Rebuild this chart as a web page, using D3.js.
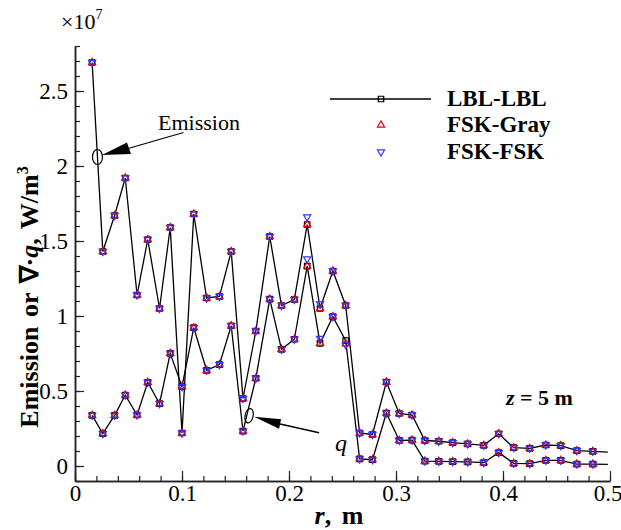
<!DOCTYPE html>
<html>
<head>
<meta charset="utf-8">
<script src="https://cdn.jsdelivr.net/npm/d3@7"></script>
<style>
  body { margin: 0; background: #fff; }
  svg { display: block; }
  text { font-family: "Liberation Serif", "Times New Roman", serif; fill: #000; }
</style>
</head>
<body>
<svg id="chart" width="621" height="530"></svg>
<script>
// Radial positions (m). The last entry is the wall point: it is part of the line only.
const radius = [0.016, 0.026, 0.037, 0.047, 0.058, 0.068, 0.079, 0.089, 0.100, 0.111,
                0.123, 0.135, 0.146, 0.157, 0.169, 0.182, 0.193, 0.205, 0.217, 0.229,
                0.241, 0.253, 0.266, 0.278, 0.291, 0.303, 0.315, 0.327, 0.340, 0.353,
                0.367, 0.382, 0.396, 0.410, 0.425, 0.440, 0.454, 0.469, 0.484, 0.498];

// Emission, x1e7 W/m^3
const emissionLBL = [2.69, 1.43, 1.67, 1.92, 1.14, 1.51, 1.05, 1.59, 0.22, 1.68,
                     1.12, 1.13, 1.43, 0.45, 0.90, 1.53, 1.07, 1.11, 1.61, 1.05,
                     1.30, 1.07, 0.22, 0.21, 0.56, 0.35, 0.34, 0.17, 0.165, 0.156,
                     0.147, 0.138, 0.215, 0.122, 0.118, 0.140, 0.136, 0.102, 0.098, 0.093];
const emissionGray = [2.69, 1.43, 1.67, 1.92, 1.14, 1.51, 1.05, 1.59, 0.22, 1.68,
                      1.12, 1.13, 1.43, 0.45, 0.90, 1.53, 1.07, 1.11, 1.61, 1.05,
                      1.30, 1.07, 0.22, 0.21, 0.56, 0.35, 0.34, 0.17, 0.165, 0.156,
                      0.147, 0.138, 0.215, 0.122, 0.118, 0.140, 0.136, 0.102, 0.098];
const emissionFSK = [2.69, 1.43, 1.67, 1.92, 1.14, 1.51, 1.05, 1.59, 0.22, 1.68,
                     1.12, 1.13, 1.43, 0.45, 0.90, 1.53, 1.07, 1.11, 1.66, 1.08,
                     1.30, 1.07, 0.22, 0.21, 0.56, 0.35, 0.34, 0.17, 0.165, 0.156,
                     0.147, 0.138, 0.215, 0.122, 0.118, 0.140, 0.136, 0.102, 0.098];

// Divergence of radiative heat flux, x1e7 W/m^3
const divqLBL = [0.338, 0.216, 0.338, 0.473, 0.34, 0.558, 0.416, 0.751, 0.529, 0.922,
                 0.638, 0.676, 0.935, 0.233, 0.585, 1.113, 0.778, 0.845, 1.333, 0.818,
                 0.996, 0.836, 0.047, 0.042, 0.353, 0.171, 0.173, 0.033, 0.031, 0.029,
                 0.027, 0.022, 0.089, 0.018, 0.016, 0.038, 0.038, 0.013, 0.013, 0.011];
const divqGray = [0.338, 0.216, 0.338, 0.473, 0.34, 0.558, 0.416, 0.751, 0.529, 0.922,
                  0.638, 0.676, 0.935, 0.233, 0.585, 1.113, 0.778, 0.845, 1.333, 0.818,
                  0.996, 0.815, 0.047, 0.042, 0.353, 0.171, 0.173, 0.033, 0.031, 0.029,
                  0.027, 0.022, 0.089, 0.018, 0.016, 0.038, 0.038, 0.013, 0.013];
const divqFSK = [0.338, 0.216, 0.338, 0.473, 0.34, 0.558, 0.416, 0.751, 0.529, 0.922,
                 0.638, 0.676, 0.935, 0.233, 0.585, 1.113, 0.778, 0.845, 1.38, 0.851,
                 0.996, 0.808, 0.047, 0.042, 0.353, 0.171, 0.173, 0.033, 0.031, 0.029,
                 0.027, 0.022, 0.089, 0.018, 0.016, 0.038, 0.038, 0.013, 0.013];

const xMajorTicks = [0, 0.1, 0.2, 0.3, 0.4, 0.5];
const yMajorTicks = [0, 0.5, 1, 1.5, 2, 2.5];
const legendLabels = ["LBL-LBL", "FSK-Gray", "FSK-FSK"];

const svg = d3.select("#chart");
const x = d3.scaleLinear().domain([0, 0.5]).range([75, 610]);
const y = d3.scaleLinear().domain([-0.1, 2.8]).range([481, 46]);
const axisColor = "#222";
const red = "#e60000", blue = "#3333ff";

// ---- axes -------------------------------------------------------------
const xMinor = d3.range(0, 0.5001, 0.02);
const yMinor = d3.range(-0.1, 2.8001, 0.1);

const gxm = svg.append("g").attr("transform", `translate(0,${y(-0.1)})`)
  .call(d3.axisBottom(x).tickValues(xMinor).tickSize(-5).tickSizeOuter(0).tickFormat(""));
const gx = svg.append("g").attr("transform", `translate(0,${y(-0.1)})`)
  .call(d3.axisBottom(x).tickValues(xMajorTicks).tickSize(-10).tickSizeOuter(0)
    .tickPadding(12).tickFormat(d => String(d)));
const gym = svg.append("g").attr("transform", `translate(${x(0)},0)`)
  .call(d3.axisLeft(y).tickValues(yMinor).tickSize(-5).tickSizeOuter(0).tickFormat(""));
const gy = svg.append("g").attr("transform", `translate(${x(0)},0)`)
  .call(d3.axisLeft(y).tickValues(yMajorTicks).tickSize(-9).tickSizeOuter(0)
    .tickPadding(7).tickFormat(d => String(d)));

[gxm, gx, gym, gy].forEach(g => {
  g.selectAll("path.domain").attr("stroke", axisColor).attr("stroke-width", 1.5);
  g.selectAll(".tick line").attr("stroke", axisColor).attr("stroke-width", 1.2);
  g.selectAll(".tick text").style("font-family", '"Liberation Serif", serif')
    .style("font-size", "23px").attr("fill", "#000");
});
gx.selectAll(".tick text").attr("dy", "0.35em");
// keep the last radial label inside the frame
gx.selectAll(".tick text").filter(d => d === 0.5).attr("text-anchor", "end").attr("dx", 12);

// ---- curves -----------------------------------------------------------
const line = d3.line().x((d, i) => x(radius[i])).y(d => y(d));
[emissionLBL, divqLBL].forEach(series => {
  svg.append("path").datum(series).attr("d", line)
    .attr("fill", "none").attr("stroke", "#000").attr("stroke-width", 1.3);
});

const squarePath = d3.symbol().type(d3.symbolSquare).size(30)();
const trianglePath = d3.symbol().type(d3.symbolTriangle).size(22)();

function drawMarkers(series, path, color, rotate) {
  svg.append("g").selectAll("path").data(series.slice(0, radius.length - 1)).join("path")
    .attr("d", path)
    .attr("transform", (d, i) => `translate(${x(radius[i])},${y(d)})${rotate ? " rotate(180)" : ""}`)
    .attr("fill", "none").attr("stroke", color).attr("stroke-width", 1.2);
}
drawMarkers(emissionLBL, squarePath, "#000", false);
drawMarkers(divqLBL, squarePath, "#000", false);
drawMarkers(emissionGray, trianglePath, red, false);
drawMarkers(divqGray, trianglePath, red, false);
drawMarkers(emissionFSK, trianglePath, blue, true);
drawMarkers(divqFSK, trianglePath, blue, true);

// ---- legend -----------------------------------------------------------
const legendX = 381, legendY = [99, 125, 152];
svg.append("line").attr("x1", 330).attr("x2", 431).attr("y1", legendY[0]).attr("y2", legendY[0])
  .attr("stroke", "#000").attr("stroke-width", 1.3);
svg.append("path").attr("d", squarePath).attr("transform", `translate(${legendX},${legendY[0]})`)
  .attr("fill", "none").attr("stroke", "#000").attr("stroke-width", 1.2);
svg.append("path").attr("d", trianglePath).attr("transform", `translate(${legendX},${legendY[1]})`)
  .attr("fill", "none").attr("stroke", red).attr("stroke-width", 1.2);
svg.append("path").attr("d", trianglePath).attr("transform", `translate(${legendX},${legendY[2]}) rotate(180)`)
  .attr("fill", "none").attr("stroke", blue).attr("stroke-width", 1.2);
legendLabels.forEach((lab, i) => {
  svg.append("text").attr("x", 447).attr("y", legendY[i] + 7)
    .style("font-size", "23px").style("font-weight", "bold").text(lab);
});

// ---- annotations ------------------------------------------------------
function annotate(cx, cy, rx, ry, tilt, tip, base1, base2, tail) {
  svg.append("ellipse").attr("cx", cx).attr("cy", cy).attr("rx", rx).attr("ry", ry)
    .attr("transform", `rotate(${tilt},${cx},${cy})`)
    .attr("fill", "none").attr("stroke", "#000").attr("stroke-width", 1.2);
  const mid = [(base1[0] + base2[0]) / 2, (base1[1] + base2[1]) / 2];
  svg.append("line").attr("x1", mid[0]).attr("y1", mid[1]).attr("x2", tail[0]).attr("y2", tail[1])
    .attr("stroke", "#000").attr("stroke-width", 1.3);
  svg.append("path").attr("d", `M${tip[0]},${tip[1]}L${base1[0]},${base1[1]}L${base2[0]},${base2[1]}Z`)
    .attr("fill", "#000");
}
// Emission: ellipse on the first segment of the emission curve
{
  const cx = x(0.0210), cy = y(2.06);
  annotate(cx, cy, 5, 7.5, 0, [cx + 4.5, cy - 2], [cx + 29.5, cy - 14.5], [cx + 33.5, cy - 3],
           [cx + 86, cy - 24.5]);
  svg.append("text").attr("x", 158).attr("y", 130).style("font-size", "22px").text("Emission");
}
// Divergence of q: ellipse on the rising segment near r = 0.16
{
  const cx = x(0.1627), cy = y(0.335);
  annotate(cx, cy, 4, 7.3, 12, [cx + 5, cy + 1], [cx + 32, cy + 3.5], [cx + 30, cy + 13],
           [cx + 70, cy + 17]);
  svg.append("text").attr("x", 335).attr("y", 451).style("font-size", "24px")
    .style("font-style", "italic").text("q");
}

// ---- titles and labels ------------------------------------------------
const mult = svg.append("text").attr("x", 61).attr("y", 29).style("font-size", "22px");
mult.append("tspan").text("×10");
mult.append("tspan").attr("dy", -10).style("font-size", "14px").text("7");

const zLab = svg.append("text").attr("x", 506).attr("y", 405)
  .style("font-size", "22px").style("font-weight", "bold");
zLab.append("tspan").style("font-style", "italic").text("z");
zLab.append("tspan").text(" = 5 m");

const xLab = svg.append("text").attr("x", 339).attr("y", 524).attr("text-anchor", "middle")
  .style("font-size", "26px").style("font-weight", "bold").style("word-spacing", "4px");
xLab.append("tspan").style("font-style", "italic").text("r");
xLab.append("tspan").text(", m");

const yLab = svg.append("text").attr("transform", "translate(38,297) rotate(-90)")
  .attr("text-anchor", "middle").style("font-size", "26px").style("font-weight", "bold")
  .style("word-spacing", "3px");
yLab.append("tspan").text("Emission or ∇·");
yLab.append("tspan").style("font-style", "italic").text("q");
yLab.append("tspan").text(", W/m");
yLab.append("tspan").attr("dy", -10).style("font-size", "16px").text("3");
</script>
</body>
</html>
